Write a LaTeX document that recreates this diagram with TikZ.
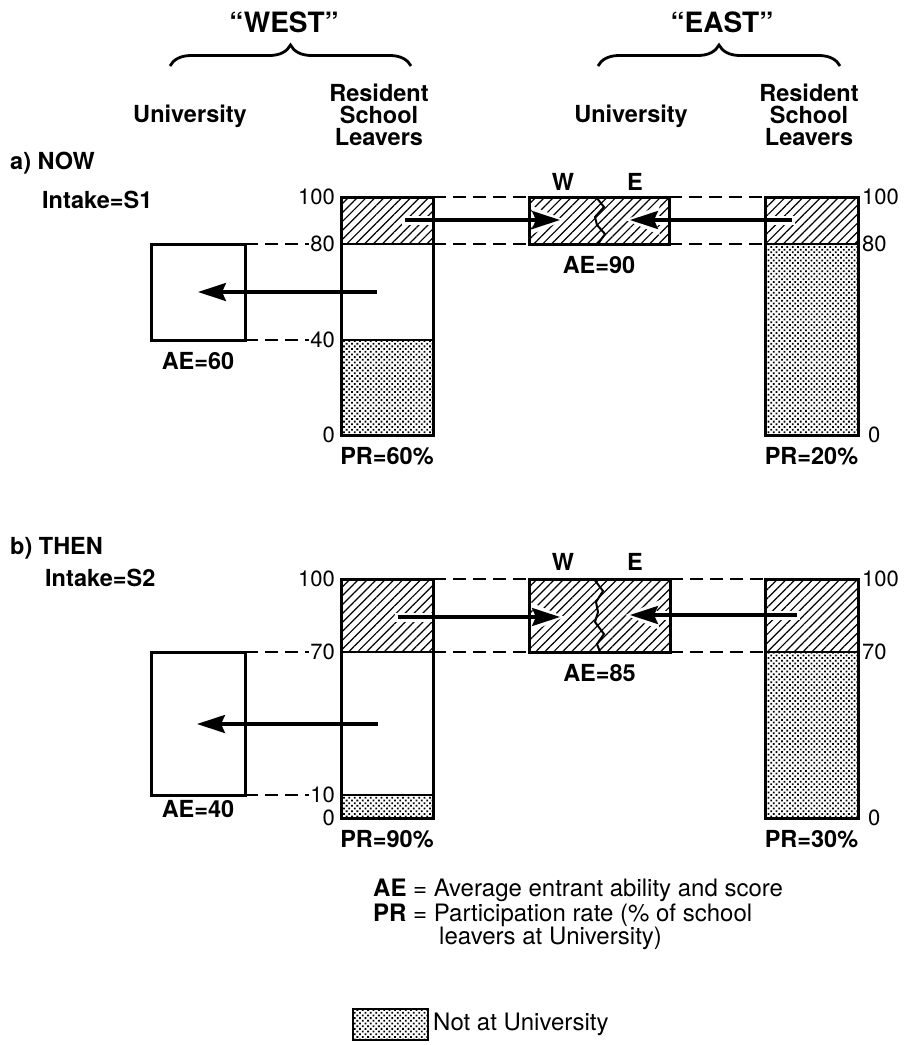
\documentclass[tikz,border=0pt]{standalone}
\usepackage{fontspec}
\setmainfont{TeX Gyre Heros}
\usetikzlibrary{positioning,arrows.meta,patterns.meta,decorations.pathreplacing}

\tikzset{
  title/.style={font=\fontsize{28}{28}\selectfont\bfseries},
  lbl/.style={font=\fontsize{23.5}{22}\selectfont\bfseries, align=center, inner sep=2pt},
  num/.style={font=\fontsize{22}{22}\selectfont, inner sep=1pt},
  legendtxt/.style={font=\fontsize{24}{24}\selectfont, inner sep=1pt},
  box/.style={draw, line width=3pt, inner sep=0pt, outer sep=0pt},
  hatch/.style={pattern={Lines[angle=45,distance=6.3pt,line width=1.2pt]}},
  stipple/.style={pattern={Dots[angle=45,distance=3.8pt,radius=1.25pt]}},
  divider/.style={line width=1.5pt},
  zig/.style={line width=2pt, line join=miter},
  guide/.style={dash pattern=on 13pt off 7pt, line width=1.3pt},
  flow/.style={line width=3.1pt, -{Stealth[length=28pt,width=18pt,inset=4pt]}},
  halo/.style={draw=white, line width=9pt, shorten >=-5pt, shorten <=-3pt, -{Stealth[length=34pt,width=28pt,inset=4pt]}},
  bracket/.style={line width=2.8pt, decorate, decoration={brace,amplitude=21pt}},
}

\begin{document}
\begin{tikzpicture}[x=1pt,y=-1pt]
\useasboundingbox (0,0) rectangle (903,1045);

% headings
\node (westT) at (284,22) [title] {“WEST”};
\node (eastT) at (722,22) [title] {“EAST”};
\draw[bracket] (170,66) -- (411,66);
\draw[bracket] (598,66) -- (840,66);
\node (wUni) at (190,116) [lbl] {University};
\node (wRes) at (379,115) [lbl] {Resident\\School\\Leavers};
\node (eUni) at (631,116) [lbl] {University};
\node (eRes) at (809,115) [lbl] {Resident\\School\\Leavers};

% a) NOW
\node (aNow) at (8,163) [lbl, anchor=west] {a) NOW};
\node (aIn) at (40,200) [lbl, anchor=west] {Intake=S1};
\fill[hatch] (341,197) rectangle (433,244);
\fill[stipple] (341,340) rectangle (433,435);
\fill[hatch] (529,197) rectangle (669,244);
\fill[hatch] (765,197) rectangle (858,244);
\fill[stipple] (765,244) rectangle (858,435);
\coordinate (aW1) at (405,220); \coordinate (aW2) at (560,220);
\coordinate (aE1) at (792,220); \coordinate (aE2) at (630,220);
\coordinate (aL1) at (377,292); \coordinate (aL2) at (198,292);
\draw[halo] (aW1) -- (aW2);
\draw[halo] (aE1) -- (aE2);
\node (aWU) at (198,292) [box, minimum width=94pt, minimum height=96pt] {};
\node (aWR) at (387,316) [box, minimum width=92pt, minimum height=238pt] {};
\node (aEU) at (599,220.5) [box, minimum width=140pt, minimum height=47pt] {};
\node (aER) at (811.5,316) [box, minimum width=93pt, minimum height=238pt] {};
\draw[divider] (341,244) -- (433,244);
\draw[divider] (341,340) -- (433,340);
\draw[divider] (765,244) -- (858,244);
\draw[zig] (596,197) -- (604,207) -- (595,217) -- (597,225) -- (605,234) -- (598,244);
% scale
\node (a100) at (336,197) [num, anchor=east] {100};
\node (a80) at (336,244) [num, anchor=east] {80};
\node (a40) at (336,340) [num, anchor=east] {40};
\node (a0) at (336,435) [num, anchor=east] {0};
\node (a100e) at (861,197) [num, anchor=west] {100};
\node (a80e) at (861,244) [num, anchor=west] {80};
\node (a0e) at (867,435) [num, anchor=west] {0};
\draw[guide] (aWU.north east) -- (a80.west);
\draw[guide] (aWU.south east) -- (a40.west);
\draw[guide] (aWR.north east) -- (aEU.north west);
\draw[guide] (aWR.east |- aEU.south) -- (aEU.south west);
\draw[guide] (aEU.north east) -- (aER.north west);
\draw[guide] (aEU.south east) -- (aER.west |- aEU.south);
% flows
\draw[flow] (aW1) -- (aW2);
\draw[flow] (aE1) -- (aE2);
\draw[flow] (aL1) -- (aL2);
\node (aW) at (563,182) [lbl] {W};
\node (aE) at (635,182) [lbl] {E};
\node (aAE90) [lbl, below=10pt of aEU] {AE=90};
\node (aAE60) [lbl, below=10pt of aWU] {AE=60};
\node (aPR60) [lbl, below=10pt of aWR] {PR=60\%};
\node (aPR20) [lbl, below=10pt of aER] {PR=20\%};

% b) THEN
\node (bThen) at (8,548) [lbl, anchor=west] {b) THEN};
\node (bIn) at (43,578) [lbl, anchor=west] {Intake=S2};
\fill[hatch] (341,579) rectangle (433,652);
\fill[stipple] (341,795) rectangle (433,818);
\fill[hatch] (529,579) rectangle (670,652);
\fill[hatch] (765,579) rectangle (858,652);
\fill[stipple] (765,652) rectangle (858,818);
\coordinate (bW1) at (398,617); \coordinate (bW2) at (560,617);
\coordinate (bE1) at (797,615); \coordinate (bE2) at (630,615);
\coordinate (bL1) at (378,724); \coordinate (bL2) at (197,724);
\draw[halo] (bW1) -- (bW2);
\draw[halo] (bE1) -- (bE2);
\node (bWU) at (198,723.5) [box, minimum width=94pt, minimum height=143pt] {};
\node (bWR) at (387,698.5) [box, minimum width=92pt, minimum height=239pt] {};
\node (bEU) at (599.5,615.5) [box, minimum width=141pt, minimum height=73pt] {};
\node (bER) at (811.5,698.5) [box, minimum width=93pt, minimum height=239pt] {};
\draw[divider] (341,652) -- (433,652);
\draw[divider] (341,795) -- (433,795);
\draw[divider] (765,652) -- (858,652);
\draw[zig] (594,579) -- (603,591) -- (596,602) -- (598,612) -- (595,622) -- (604,634) -- (597,644) -- (600,652);
% scale
\node (b100) at (336,579) [num, anchor=east] {100};
\node (b70) at (336,652) [num, anchor=east] {70};
\node (b10) at (336,795) [num, anchor=east] {10};
\node (b0) at (336,818) [num, anchor=east] {0};
\node (b100e) at (861,579) [num, anchor=west] {100};
\node (b70e) at (861,652) [num, anchor=west] {70};
\node (b0e) at (867,818) [num, anchor=west] {0};
\draw[guide] (bWU.north east) -- (b70.west);
\draw[guide] (bWU.south east) -- (b10.west);
\draw[guide] (bWR.north east) -- (bEU.north west);
\draw[guide] (bWR.east |- bEU.south) -- (bEU.south west);
\draw[guide] (bEU.north east) -- (bER.north west);
\draw[guide] (bEU.south east) -- (bER.west |- bEU.south);
% flows
\draw[flow] (bW1) -- (bW2);
\draw[flow] (bE1) -- (bE2);
\draw[flow] (bL1) -- (bL2);
\node (bW) at (563,562) [lbl] {W};
\node (bE) at (635,562) [lbl] {E};
\node (bAE85) [lbl, below=10pt of bEU] {AE=85};
\node (bAE40) [lbl, below=3pt of bWU] {AE=40};
\node (bPR90) [lbl, below=10pt of bWR] {PR=90\%};
\node (bPR30) [lbl, below=10pt of bER] {PR=30\%};

% legend
\node (keyAE) at (372,890) [legendtxt, anchor=west] {\textbf{AE} = Average entrant ability and score};
\node (keyPR) at (372,915) [legendtxt, anchor=west] {\textbf{PR} = Participation rate (\% of school};
\node (keyPR2) at (438,938) [legendtxt, anchor=west] {leavers at University)};
\node (keyBox) at (390.5,1024.5) [box, stipple, line width=2pt, minimum width=75pt, minimum height=31pt] {};
\node (keyNot) [legendtxt, right=4pt of keyBox] {Not at University};
\end{tikzpicture}
\end{document}
